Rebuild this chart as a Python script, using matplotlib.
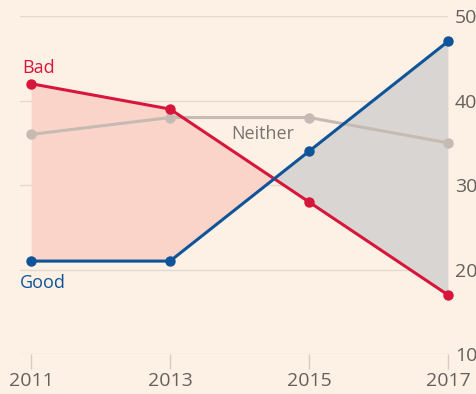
import numpy as np
import matplotlib.pyplot as plt

years = [2011, 2013, 2015, 2017]
bad = [42, 39, 28, 17]
good = [21, 21, 34, 47]
neither = [36, 38, 38, 35]
y_ticks = [10, 20, 30, 40, 50]

bg = '#fdf1e6'
red = '#d7163c'
blue = '#0f5499'
grey_line = '#c5bbb2'
text_grey = '#66605c'

plt.rcParams['font.family'] = ['Open Sans', 'DejaVu Sans']

fig = plt.figure(figsize=(4.77, 3.94), dpi=100, facecolor=bg)
ax = fig.add_axes([0.042, 0.1015, 0.897, 0.8575], facecolor=bg)

x = np.array(years)
b = np.array(bad)
g = np.array(good)

# shaded gap between Bad and Good
ax.fill_between(x, b, g, where=b >= g, interpolate=True, color='#fad4c8', lw=0, zorder=1)
ax.fill_between(x, b, g, where=b <= g, interpolate=True, color='#d9d5d3', lw=0, zorder=1)

ax.plot(x, neither, color=grey_line, lw=2.2, marker='o', ms=6.5, zorder=3, clip_on=False)
ax.plot(x, bad, color=red, lw=2.2, marker='o', ms=6.5, zorder=4, clip_on=False)
ax.plot(x, good, color=blue, lw=2.2, marker='o', ms=6.5, zorder=5, clip_on=False)

ax.text(2010.87, 43.9, 'Bad', color=red, fontsize=13, va='center', ha='left')
ax.text(2013.88, 36.0, 'Neither', color='#7a736e', fontsize=13, va='center', ha='left')
ax.text(2010.84, 18.4, 'Good', color=blue, fontsize=13, va='center', ha='left')

ax.set_xlim(2010.84, 2017)
ax.set_ylim(10, 50)
ax.set_yticks(y_ticks)
ax.set_xticks(years)
ax.yaxis.tick_right()
ax.grid(axis='y', color='#e3d9cf', lw=1)
ax.set_axisbelow(True)
for s in ax.spines.values():
    s.set_visible(False)
ax.tick_params(axis='y', length=0, pad=5, labelsize=14, labelcolor=text_grey)
ax.tick_params(axis='x', length=11, width=1, color='#d6ccc2', pad=2, labelsize=14, labelcolor=text_grey)

fig.savefig('out.png', dpi=100, facecolor=bg)
